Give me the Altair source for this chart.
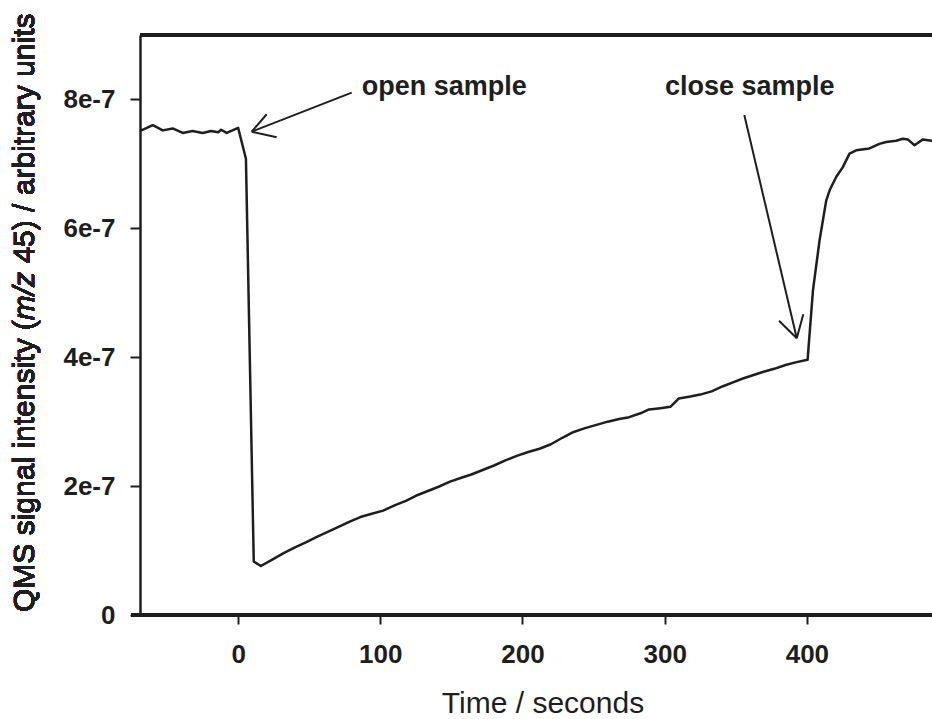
import altair as alt
import pandas as pd

# QMS trace for m/z 45 while the sample valve is opened and closed again
time_s = [
    -70, -68, -60, -53, -46, -39, -32, -25, -19, -14, -12, -8, 0, 5.5,
    11, 16, 24, 32, 40, 48, 55, 63, 71, 78.5, 86, 94, 102, 110, 118, 125,
    133, 141, 149, 157, 164, 172, 180, 188, 196, 204, 212, 220, 228, 236,
    244, 252, 260, 268, 275, 283, 289, 297, 304, 310, 318, 325, 333, 341,
    348, 355, 362, 369, 377, 385, 392, 400.5, 404.3, 408.9, 413.6, 416,
    420.7, 425.3, 430, 434.7, 444, 451, 455.8, 462.8, 467.5, 471, 475.7,
    481.6, 487.7, 492,
]
signal = [
    7.52e-7, 7.52e-7, 7.60e-7, 7.52e-7, 7.55e-7, 7.48e-7, 7.51e-7, 7.48e-7,
    7.51e-7, 7.49e-7, 7.53e-7, 7.48e-7, 7.56e-7, 7.08e-7,
    0.83e-7, 0.76e-7, 0.86e-7, 0.96e-7, 1.05e-7, 1.13e-7, 1.21e-7, 1.29e-7,
    1.37e-7, 1.45e-7, 1.52e-7, 1.57e-7, 1.62e-7, 1.70e-7, 1.77e-7, 1.85e-7,
    1.92e-7, 1.99e-7, 2.07e-7, 2.13e-7, 2.18e-7, 2.25e-7, 2.32e-7, 2.40e-7,
    2.47e-7, 2.53e-7, 2.58e-7, 2.65e-7, 2.75e-7, 2.84e-7,
    2.90e-7, 2.95e-7, 3.00e-7, 3.04e-7, 3.07e-7, 3.13e-7, 3.19e-7, 3.21e-7,
    3.23e-7, 3.36e-7, 3.39e-7, 3.42e-7, 3.47e-7, 3.55e-7,
    3.61e-7, 3.67e-7, 3.72e-7, 3.77e-7, 3.82e-7, 3.88e-7, 3.92e-7, 3.96e-7,
    5.04e-7, 5.81e-7, 6.43e-7, 6.59e-7,
    6.80e-7, 6.95e-7, 7.16e-7, 7.21e-7, 7.24e-7, 7.31e-7, 7.34e-7, 7.36e-7,
    7.39e-7, 7.38e-7, 7.29e-7, 7.38e-7, 7.36e-7, 7.37e-7,
]

x_ticks = [0, 100, 200, 300, 400]
y_ticks = [0, 2e-7, 4e-7, 6e-7, 8e-7]

# Annotation arrows: shaft from tail to tip, plus the two barbs of the head
ann_labels = ["open sample", "close sample"]
ann_text_t = [86.9, 300.2]
ann_text_s = [8.07e-7, 8.07e-7]
tip_t = [9.56, 392.9]
tip_s = [7.50e-7, 4.294e-7]
tail_t = [79.9, 356.0]
tail_s = [8.105e-7, 7.759e-7]
barb1_t = [27.1, 380.4]
barb1_s = [7.413e-7, 4.567e-7]
barb2_t = [20.1, 397.5]
barb2_s = [7.770e-7, 4.666e-7]

INK = "#1e1e1e"
FONT = "Liberation Sans"
W, H = 792, 580

x_scale = alt.Scale(domain=[-69, 488], nice=False, zero=False)
y_scale = alt.Scale(domain=[0, 9e-7], nice=False, zero=False)

trace = pd.DataFrame({"t": time_s, "s": signal})

segs = []
for i in range(len(tip_t)):
    segs.append({"t": tail_t[i], "s": tail_s[i], "t2": tip_t[i], "s2": tip_s[i]})
    segs.append({"t": barb1_t[i], "s": barb1_s[i], "t2": tip_t[i], "s2": tip_s[i]})
    segs.append({"t": barb2_t[i], "s": barb2_s[i], "t2": tip_t[i], "s2": tip_s[i]})
arrows = pd.DataFrame(segs)
labels = pd.DataFrame({"t": ann_text_t, "s": ann_text_s, "label": ann_labels})

x_axis = alt.Axis(
    values=x_ticks, title="Time / seconds", domain=False, grid=False,
    tickSize=9, tickWidth=2, tickColor=INK,
    labelFont=FONT, labelFontSize=26, labelFontWeight="bold", labelColor=INK,
    labelPadding=17, labelFlush=False,
    titleFont=FONT, titleFontSize=30, titleFontWeight="normal", titleColor=INK,
    titleX=402.5, titleY=97, titleAlign="center", titleBaseline="alphabetic",
)
y_axis = alt.Axis(
    values=y_ticks, title=None, grid=False,
    domain=True, domainColor=INK, domainWidth=2.5,
    tickSize=10, tickWidth=2, tickColor=INK,
    labelFont=FONT, labelFontSize=26, labelFontWeight="bold", labelColor=INK,
    labelPadding=15, labelFlush=False,
    labelExpr="datum.value == 0 ? '0' : format(datum.value, '.0e')",
)

line = alt.Chart(trace).mark_line(
    color=INK, strokeWidth=2.5, clip=True, strokeJoin="round"
).encode(
    x=alt.X("t:Q", scale=x_scale, axis=x_axis),
    y=alt.Y("s:Q", scale=y_scale, axis=y_axis),
)

arrow_marks = alt.Chart(arrows).mark_rule(color=INK, strokeWidth=2).encode(
    x=alt.X("t:Q", scale=x_scale),
    y=alt.Y("s:Q", scale=y_scale),
    x2="t2:Q",
    y2="s2:Q",
)

label_marks = alt.Chart(labels).mark_text(
    font=FONT, fontSize=27, fontWeight="bold", color=INK,
    align="left", baseline="alphabetic",
).encode(
    x=alt.X("t:Q", scale=x_scale),
    y=alt.Y("s:Q", scale=y_scale),
    text="label:N",
)

# Frame: top border and bottom axis line (the latter overhangs the y axis)
frame_top = alt.Chart(trace).mark_rule(color=INK, strokeWidth=2.5).encode(
    x=alt.value(0), x2=alt.value(W), y=alt.value(0)
)
frame_bottom = alt.Chart(trace).mark_rule(color=INK, strokeWidth=2.5).encode(
    x=alt.value(-9), x2=alt.value(W), y=alt.value(H)
)

# Y-axis title in three runs so that m/z can be set in italics
title_parts = ["QMS signal intensity (", "m/z", "45) / arbitrary units"]
title_styles = ["normal", "italic", "normal"]
title_y = [577, 285.3, 228.6]
ytitle_layers = []
for part, style, ypos in zip(title_parts, title_styles, title_y):
    ytitle_layers.append(
        alt.Chart(trace).mark_text(
            text=part, font=FONT, fontSize=30, fontStyle=style, color=INK,
            align="left", baseline="alphabetic", angle=270,
        ).encode(x=alt.value(-106.5), y=alt.value(ypos))
    )

chart = alt.layer(
    line, arrow_marks, label_marks, frame_top, frame_bottom, *ytitle_layers
).properties(
    width=W, height=H,
    autosize="none",
    padding={"left": 140, "top": 35, "right": 0, "bottom": 104},
    background="white",
).configure_view(stroke=None)

chart.save("out.html", embed_options={"renderer": "svg", "actions": False})
